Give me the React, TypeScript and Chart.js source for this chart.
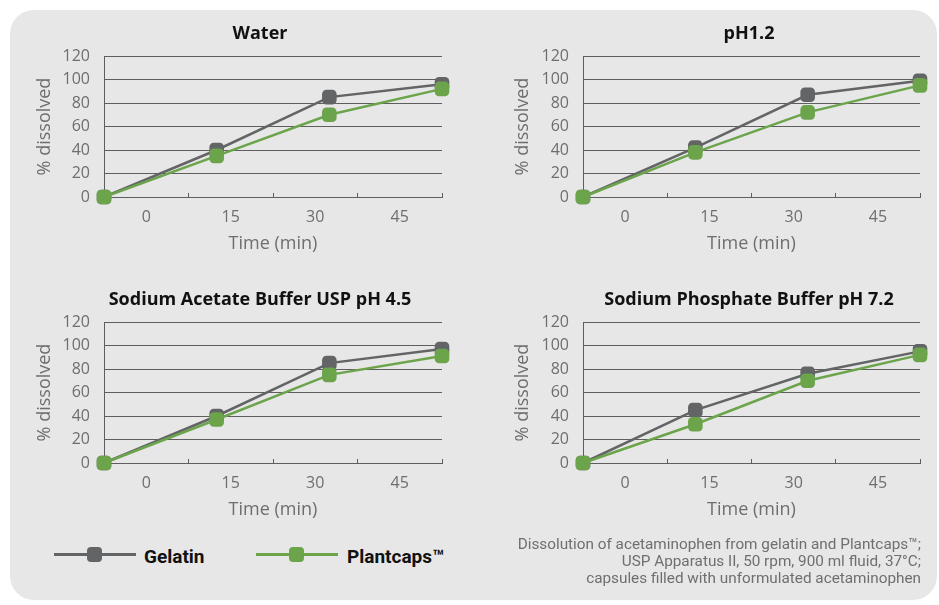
import React, { useEffect, useRef } from 'react';
import { Chart, registerables } from 'chart.js';

Chart.register(...registerables);

// ---------- data ----------
const timeLabels = ['0', '15', '30', '45'];
const seriesNames = ['Gelatin', 'Plantcaps™'];
const chartTitles = ['Water', 'pH1.2', 'Sodium Acetate Buffer USP pH 4.5', 'Sodium Phosphate Buffer pH 7.2'];

const waterGelatin = [0, 40, 85, 96];
const waterPlantcaps = [0, 35, 70, 92];
const ph12Gelatin = [0, 42, 87, 99];
const ph12Plantcaps = [0, 38, 72, 95];
const acetateGelatin = [0, 40, 85, 97];
const acetatePlantcaps = [0, 37, 75, 91];
const phosphateGelatin = [0, 45, 76, 95];
const phosphatePlantcaps = [0, 33, 70, 92];

const yMin = 0;
const yMax = 120;
const yStep = 20;

const captionLines = [
  'Dissolution of acetaminophen from gelatin and Plantcaps™;',
  'USP Apparatus II, 50 rpm, 900 ml fluid, 37°C;',
  'capsules filled with unformulated acetaminophen',
];

// ---------- styles ----------
const GRAY = '#636466';
const GREEN = '#6ca44c';
const GRID = '#5e5e5e';
const TEXT_GRAY = '#6d6e70';
const FONT = '"Open Sans", "Noto Sans", sans-serif';

type PanelProps = {
  title: string;
  gelatin: number[];
  plantcaps: number[];
  left: number;
  top: number;
  width: number;
  height: number;
  rightW: number;
  yTitlePad: number;
};

function DissolutionChart(p: PanelProps) {
  const ref = useRef<HTMLCanvasElement>(null);
  useEffect(() => {
    const n = timeLabels.length;
    const xMax = n - 1;
    const tickCount = n * 2 + 1;
    const mk = (vals: number[]) => vals.map((y, i) => ({ x: i, y }));
    const chart = new Chart(ref.current as HTMLCanvasElement, {
      type: 'line',
      data: {
        datasets: [
          {
            label: seriesNames[1],
            data: mk(p.plantcaps),
            borderColor: GREEN,
            backgroundColor: GREEN,
            pointBackgroundColor: GREEN,
            pointBorderColor: GREEN,
            borderWidth: 2.5,
            pointStyle: 'rectRounded',
            pointRadius: 8.5,
            pointBorderWidth: 0,
            clip: false as any,
            order: 1,
          },
          {
            label: seriesNames[0],
            data: mk(p.gelatin),
            borderColor: GRAY,
            backgroundColor: GRAY,
            pointBackgroundColor: GRAY,
            pointBorderColor: GRAY,
            borderWidth: 2.5,
            pointStyle: 'rectRounded',
            pointRadius: 8.5,
            pointBorderWidth: 0,
            clip: false as any,
            order: 2,
          },
        ],
      },
      options: {
        animation: false,
        responsive: false,
        maintainAspectRatio: false,
        layout: { padding: 0 },
        plugins: {
          legend: { display: false },
          tooltip: { enabled: false },
          title: {
            display: true,
            text: p.title,
            color: '#111111',
            font: { family: FONT, size: 18, weight: 'bold', lineHeight: 1.2 },
            padding: { top: 9.2, bottom: 11.2 },
          },
        },
        scales: {
          x: {
            type: 'linear',
            min: 0,
            max: xMax,
            afterBuildTicks: (s: any) => {
              s.ticks = Array.from({ length: tickCount }, (_, i) => ({ value: (i * xMax) / (tickCount - 1) }));
            },
            ticks: {
              autoSkip: false,
              maxRotation: 0,
              padding: 14.4,
              color: TEXT_GRAY,
              font: { family: FONT, size: 16, lineHeight: 1.2 },
              callback: (_v: any, i: number) => (i % 2 === 1 ? timeLabels[(i - 1) / 2] : ''),
            },
            grid: {
              drawOnChartArea: false,
              drawTicks: true,
              tickLength: -4,
              tickWidth: 1,
              tickColor: (ctx: any) => (ctx.index % 2 === 0 ? GRID : 'rgba(0,0,0,0)'),
            },
            border: { display: true, color: GRID, width: 1 },
            title: {
              display: true,
              text: 'Time (min)',
              color: TEXT_GRAY,
              font: { family: FONT, size: 18, lineHeight: 1.2 },
              padding: { top: 0, bottom: 2.4 },
            },
            afterFit: (s: any) => {
              s.height = 60;
            },
          },
          y: {
            min: yMin,
            max: yMax,
            ticks: {
              stepSize: yStep,
              padding: 14,
              color: TEXT_GRAY,
              font: { family: FONT, size: 16, lineHeight: 1.2 },
            },
            grid: { color: GRID, lineWidth: 1, drawTicks: false },
            border: { display: true, color: GRID, width: 1 },
            title: {
              display: true,
              text: '% dissolved',
              color: TEXT_GRAY,
              font: { family: FONT, size: 18, lineHeight: 1.2 },
              padding: { top: p.yTitlePad, bottom: 0 },
            },
            afterFit: (s: any) => {
              s.width = 104;
            },
          },
          y2: {
            position: 'right',
            display: true,
            grid: { display: false },
            ticks: { display: false },
            border: { display: false },
            afterFit: (s: any) => {
              s.width = p.rightW;
            },
          },
        },
      } as any,
    });
    return () => chart.destroy();
  }, []);
  return (
    <canvas
      ref={ref}
      width={p.width}
      height={p.height}
      style={{ position: 'absolute', left: p.left, top: p.top, width: p.width, height: p.height }}
    />
  );
}

const legendColors = [GRAY, GREEN];
const legendLineLefts = [54, 256];
const legendTextLefts = [144, 347];

export default function App() {
  return (
    <div
      style={{
        position: 'absolute',
        left: 0,
        top: 0,
        width: 939,
        height: 605,
        overflow: 'hidden',
        background: '#ffffff',
      }}
    >
      <div
        style={{
          position: 'absolute',
          left: 10,
          top: 10,
          width: 927,
          height: 590,
          borderRadius: 24,
          background: '#e7e7e7',
        }}
      />
      <DissolutionChart title={chartTitles[0]} gelatin={waterGelatin} plantcaps={waterPlantcaps}
        left={0} top={14} width={520} height={243} rightW={78} yTitlePad={34} />
      <DissolutionChart title={chartTitles[1]} gelatin={ph12Gelatin} plantcaps={ph12Plantcaps}
        left={479} top={14} width={540} height={243} rightW={99} yTitlePad={33} />
      <DissolutionChart title={chartTitles[2]} gelatin={acetateGelatin} plantcaps={acetatePlantcaps}
        left={0} top={280} width={520} height={243} rightW={78} yTitlePad={34} />
      <DissolutionChart title={chartTitles[3]} gelatin={phosphateGelatin} plantcaps={phosphatePlantcaps}
        left={479} top={280} width={540} height={243} rightW={99} yTitlePad={33} />

      {seriesNames.map((name, i) => (
        <React.Fragment key={name}>
          <div style={{ position: 'absolute', left: legendLineLefts[i], top: 553, width: 82, height: 2.5, background: legendColors[i] }} />
          <div style={{ position: 'absolute', left: legendLineLefts[i] + 33, top: 547, width: 15, height: 15, borderRadius: 4, background: legendColors[i] }} />
          <div
            style={{
              position: 'absolute',
              left: legendTextLefts[i],
              top: 544,
              height: 26,
              lineHeight: '26px',
              fontFamily: '"Roboto", "Open Sans", sans-serif',
              fontWeight: 700,
              fontSize: 19,
              color: '#111111',
              whiteSpace: 'nowrap',
            }}
          >
            {name}
          </div>
        </React.Fragment>
      ))}

      <div
        style={{
          position: 'absolute',
          right: 18,
          top: 536,
          textAlign: 'right',
          fontFamily: '"Roboto", "Open Sans", sans-serif',
          fontSize: 15.3,
          lineHeight: '17px',
          color: '#6f6f6f',
          whiteSpace: 'nowrap',
        }}
      >
        {captionLines.map((l) => (
          <div key={l}>{l}</div>
        ))}
      </div>
    </div>
  );
}
